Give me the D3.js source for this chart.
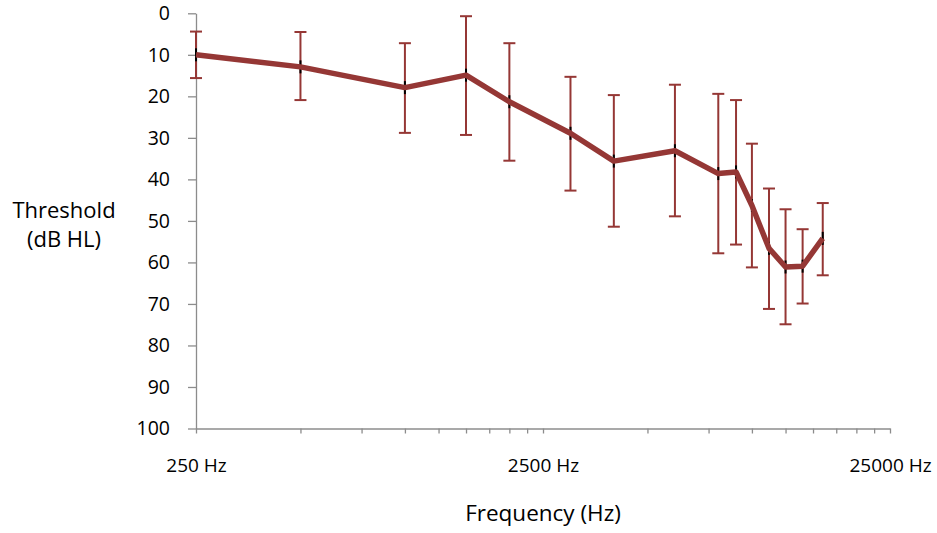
<!DOCTYPE html>
<html>
<head>
<meta charset="utf-8">
<script src="https://cdn.jsdelivr.net/npm/d3@7"></script>
<style>
  body { margin: 0; background: #fff; }
  svg text { font-family: "Open Sans", sans-serif; fill: #000; }
</style>
</head>
<body>
<script>
// audiogram data (mean threshold with error bar ends, dB HL)
const freqs = [250, 500, 1000, 1500, 2000, 3000, 4000, 6000, 8000, 9000, 10000, 11200, 12500, 14000, 16000];
const means = [10.0, 12.9, 17.9, 14.9, 21.3, 28.9, 35.6, 33.1, 38.6, 38.2, 46.3, 56.6, 61.1, 60.9, 54.2];
const errTop = [4.4, 4.5, 7.2, 0.7, 7.2, 15.3, 19.7, 17.2, 19.4, 20.9, 31.4, 42.2, 47.2, 52.0, 45.7];
const errBottom = [15.6, 20.9, 28.8, 29.3, 35.5, 42.7, 51.4, 48.9, 57.8, 55.7, 61.2, 71.2, 74.9, 69.9, 63.1];
const yTicks = [0, 10, 20, 30, 40, 50, 60, 70, 80, 90, 100];
const xMajor = [250, 2500, 25000];
const xLabels = ["250 Hz", "2500 Hz", "25000 Hz"];

const width = 937, height = 533;
const lineColor = "#953735";
const axisColor = "#8c8c8c";

const points = freqs.map((f, i) => ({ f: f, m: means[i], lo: errTop[i], hi: errBottom[i] }));

const svg = d3.select("body").append("svg")
  .attr("width", width)
  .attr("height", height);

const x = d3.scaleLog().domain([250, 25000]).range([196, 890]);
const y = d3.scaleLinear().domain([0, 100]).range([13.3, 428.5]);

// minor ticks on the log axis: 250*k, 2500*k
let xTickVals = [];
[250, 2500].forEach((base) => {
  for (let k = 1; k < 10; k++) xTickVals.push(base * k);
});
xTickVals.push(25000);

/** Y AXIS */
const yAxis = svg.append("g")
  .attr("transform", `translate(${x.range()[0]},0)`)
  .call(d3.axisLeft(y).tickValues(yTicks).tickSize(8).tickPadding(18).tickSizeOuter(0));
yAxis.select(".domain").attr("stroke", axisColor).attr("stroke-width", 1.3);
yAxis.selectAll(".tick line").attr("stroke", axisColor).attr("stroke-width", 1.3);
yAxis.selectAll(".tick text")
  .attr("font-size", "19.5px")
  .attr("font-family", "Open Sans, sans-serif")
  .attr("fill", "#000");

/** X AXIS */
const xAxis = svg.append("g")
  .attr("transform", `translate(0,${y(100)})`)
  .call(d3.axisBottom(x).tickValues(xTickVals).tickSize(5).tickSizeOuter(0)
    .tickFormat((d) => {
      const i = xMajor.indexOf(d);
      return i >= 0 ? xLabels[i] : "";
    }));
xAxis.select(".domain").attr("stroke", axisColor).attr("stroke-width", 1.3);
xAxis.selectAll(".tick line").attr("stroke", axisColor).attr("stroke-width", 1.3);
xAxis.selectAll(".tick text")
  .attr("font-size", "19px")
  .attr("font-family", "Open Sans, sans-serif")
  .attr("fill", "#000")
  .attr("y", 43)
  .attr("dy", 0);

/** AXIS TITLES */
svg.append("text")
  .attr("x", 64).attr("y", 218)
  .attr("text-anchor", "middle")
  .attr("font-size", "22px")
  .text("Threshold");
svg.append("text")
  .attr("x", 64).attr("y", 247)
  .attr("text-anchor", "middle")
  .attr("font-size", "22px")
  .text("(dB HL)");
svg.append("text")
  .attr("x", 543).attr("y", 521)
  .attr("text-anchor", "middle")
  .attr("font-size", "22.5px")
  .text("Frequency (Hz)");

/** ERROR BARS */
const bars = svg.append("g").selectAll("g")
  .data(points)
  .enter()
  .append("g")
  .attr("stroke", lineColor)
  .attr("stroke-width", 2);
bars.append("line")
  .attr("x1", (d) => x(d.f)).attr("x2", (d) => x(d.f))
  .attr("y1", (d) => y(d.lo)).attr("y2", (d) => y(d.hi));
bars.append("line")
  .attr("x1", (d) => x(d.f) - 6).attr("x2", (d) => x(d.f) + 6)
  .attr("y1", (d) => y(d.lo)).attr("y2", (d) => y(d.lo));
bars.append("line")
  .attr("x1", (d) => x(d.f) - 6).attr("x2", (d) => x(d.f) + 6)
  .attr("y1", (d) => y(d.hi)).attr("y2", (d) => y(d.hi));

// little black dash markers at each point
svg.append("g").selectAll("rect")
  .data(points)
  .enter()
  .append("rect")
  .attr("x", (d) => x(d.f) - 1)
  .attr("y", (d) => y(d.m) - 6.5)
  .attr("width", 2)
  .attr("height", 13)
  .attr("fill", "#000");

/** MEAN LINE */
svg.append("path")
  .datum(points)
  .attr("fill", "none")
  .attr("stroke", lineColor)
  .attr("stroke-width", 5.5)
  .attr("stroke-linejoin", "round")
  .attr("d", d3.line().x((d) => x(d.f)).y((d) => y(d.m)));
</script>
</body>
</html>
